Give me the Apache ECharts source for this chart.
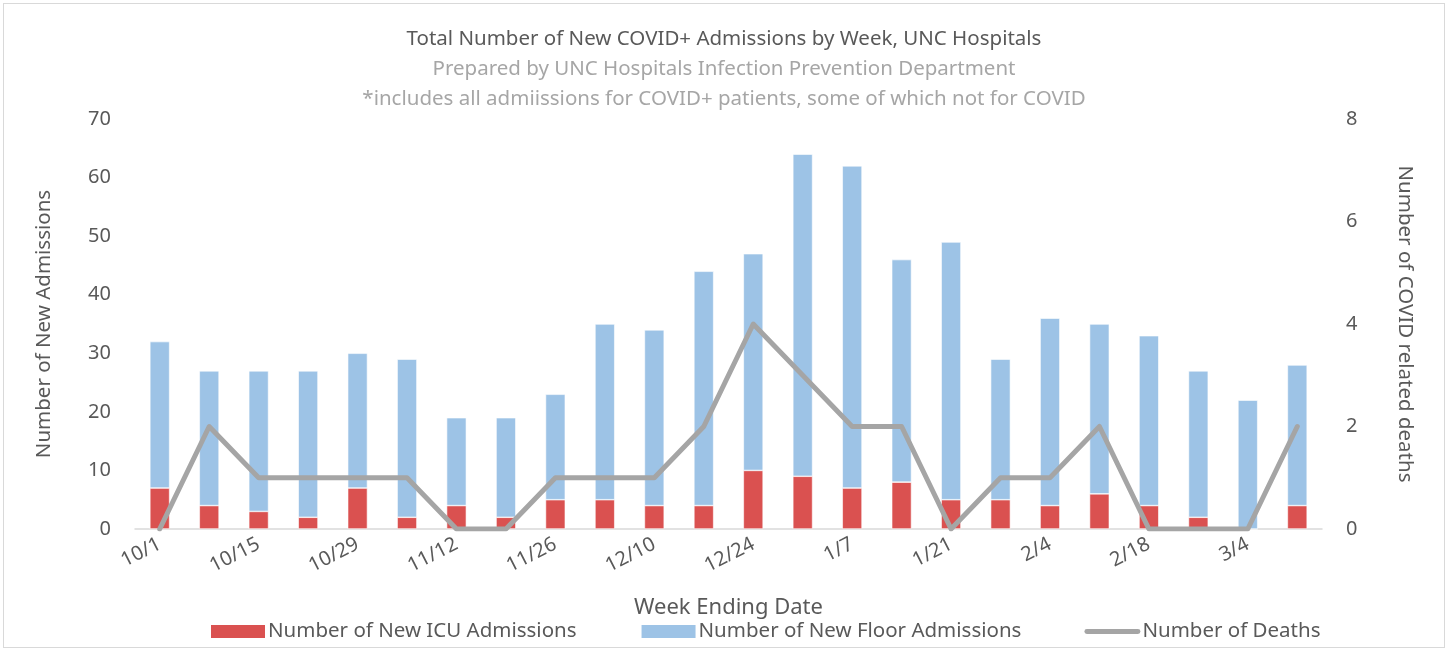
<!DOCTYPE html>
<html>
<head>
<meta charset="utf-8">
<script src="https://cdn.jsdelivr.net/npm/echarts@6/dist/echarts.min.js"></script>
<style>
  html, body { margin: 0; padding: 0; background: #fff; }
  #chart { position: absolute; left: 3px; top: 3px; width: 1442px; height: 645px; border: 1px solid #d9d9d9; box-sizing: border-box; }
</style>
</head>
<body>
<div id="chart"></div>
<script>
// week ending dates
const weeks = ['10/1','10/8','10/15','10/22','10/29','11/5','11/12','11/19','11/26','12/3','12/10','12/17',
               '12/24','12/31','1/7','1/14','1/21','1/28','2/4','2/11','2/18','2/25','3/4','3/11'];
// new ICU admissions
const icuAdmissions = [7, 4, 3, 2, 7, 2, 4, 2, 5, 5, 4, 4, 10, 9, 7, 8, 5, 5, 4, 6, 4, 2, 0, 4];
// new floor admissions (stacked on ICU)
const floorAdmissions = [25, 23, 24, 25, 23, 27, 15, 17, 18, 30, 30, 40, 37, 55, 55, 38, 44, 24, 32, 29, 29, 25, 22, 24];
// covid related deaths (right axis)
const deaths = [0, 2, 1, 1, 1, 1, 0, 0, 1, 1, 1, 2, 4, 3, 2, 2, 0, 1, 1, 2, 0, 0, 0, 2];

const font = 'Noto Sans';
const txt = '#595959';

let myChart = echarts.init(document.getElementById('chart'));
myChart.setOption({
  animation: false,
  textStyle: { fontFamily: font },
  title: {
    left: 'center',
    top: 20,
    text: 'Total Number of New COVID+ Admissions by Week, UNC Hospitals',
    subtext: 'Prepared by UNC Hospitals Infection Prevention Department\n*includes all admiissions for COVID+ patients, some of which not for COVID',
    itemGap: 4,
    textStyle: { fontFamily: font, fontSize: 20.5, fontWeight: 'normal', color: txt },
    subtextStyle: { fontFamily: font, fontSize: 20.5, color: '#a6a6a6', lineHeight: 30 }
  },
  legend: {
    bottom: 0,
    left: 200,
    itemGap: 63,
    itemWidth: 56,
    itemHeight: 15,
    textStyle: { fontFamily: font, fontSize: 20.5, color: txt, padding: [0, 0, 0, -3] },
    data: [
      { name: 'Number of New ICU Admissions', icon: 'rect' },
      { name: 'Number of New Floor Admissions', icon: 'rect' },
      { name: 'Number of Deaths', icon: 'path://M2,0 H54 A2,2 0 0 1 54,5 H2 A2,2 0 0 1 2,0 Z' }
    ]
  },
  grid: { left: 131, right: 122, top: 115, bottom: 118 },
  xAxis: {
    type: 'category',
    data: weeks,
    name: 'Week Ending Date',
    nameLocation: 'middle',
    nameGap: 68,
    nameTextStyle: { fontFamily: font, fontSize: 22, color: txt },
    axisLine: { lineStyle: { color: '#d9d9d9', width: 1.5 } },
    axisTick: { show: false },
    axisLabel: { interval: 1, rotate: 27, fontSize: 20, color: txt, margin: 14 }
  },
  yAxis: [
    {
      type: 'value',
      min: 0, max: 70, interval: 10,
      name: 'Number of New Admissions',
      nameLocation: 'middle',
      nameRotate: 90,
      nameGap: 80,
      nameTextStyle: { fontFamily: font, fontSize: 20.5, color: txt },
      axisLine: { show: false },
      axisTick: { show: false },
      splitLine: { show: false },
      axisLabel: { fontSize: 20, color: txt, margin: 24 }
    },
    {
      type: 'value',
      min: 0, max: 8, interval: 2,
      name: 'Number of COVID related deaths',
      nameLocation: 'middle',
      nameRotate: -90,
      nameGap: 72,
      nameTextStyle: { fontFamily: font, fontSize: 20.5, color: txt },
      axisLine: { show: false },
      axisTick: { show: false },
      splitLine: { show: false },
      axisLabel: { fontSize: 20, color: txt, margin: 24 }
    }
  ],
  series: [
    {
      name: 'Number of New ICU Admissions',
      type: 'bar',
      stack: 'adm',
      barWidth: '40%',
      itemStyle: { color: '#da5150', borderColor: '#fff', borderWidth: 0.6 },
      data: icuAdmissions
    },
    {
      name: 'Number of New Floor Admissions',
      type: 'bar',
      stack: 'adm',
      barWidth: '40%',
      itemStyle: { color: '#9dc3e6', borderColor: '#fff', borderWidth: 0.6 },
      data: floorAdmissions
    },
    {
      name: 'Number of Deaths',
      type: 'line',
      yAxisIndex: 1,
      symbol: 'none',
      lineStyle: { color: '#a5a5a5', width: 5, cap: 'round', join: 'round' },
      itemStyle: { color: '#a5a5a5' },
      data: deaths
    }
  ]
});
</script>
</body>
</html>
